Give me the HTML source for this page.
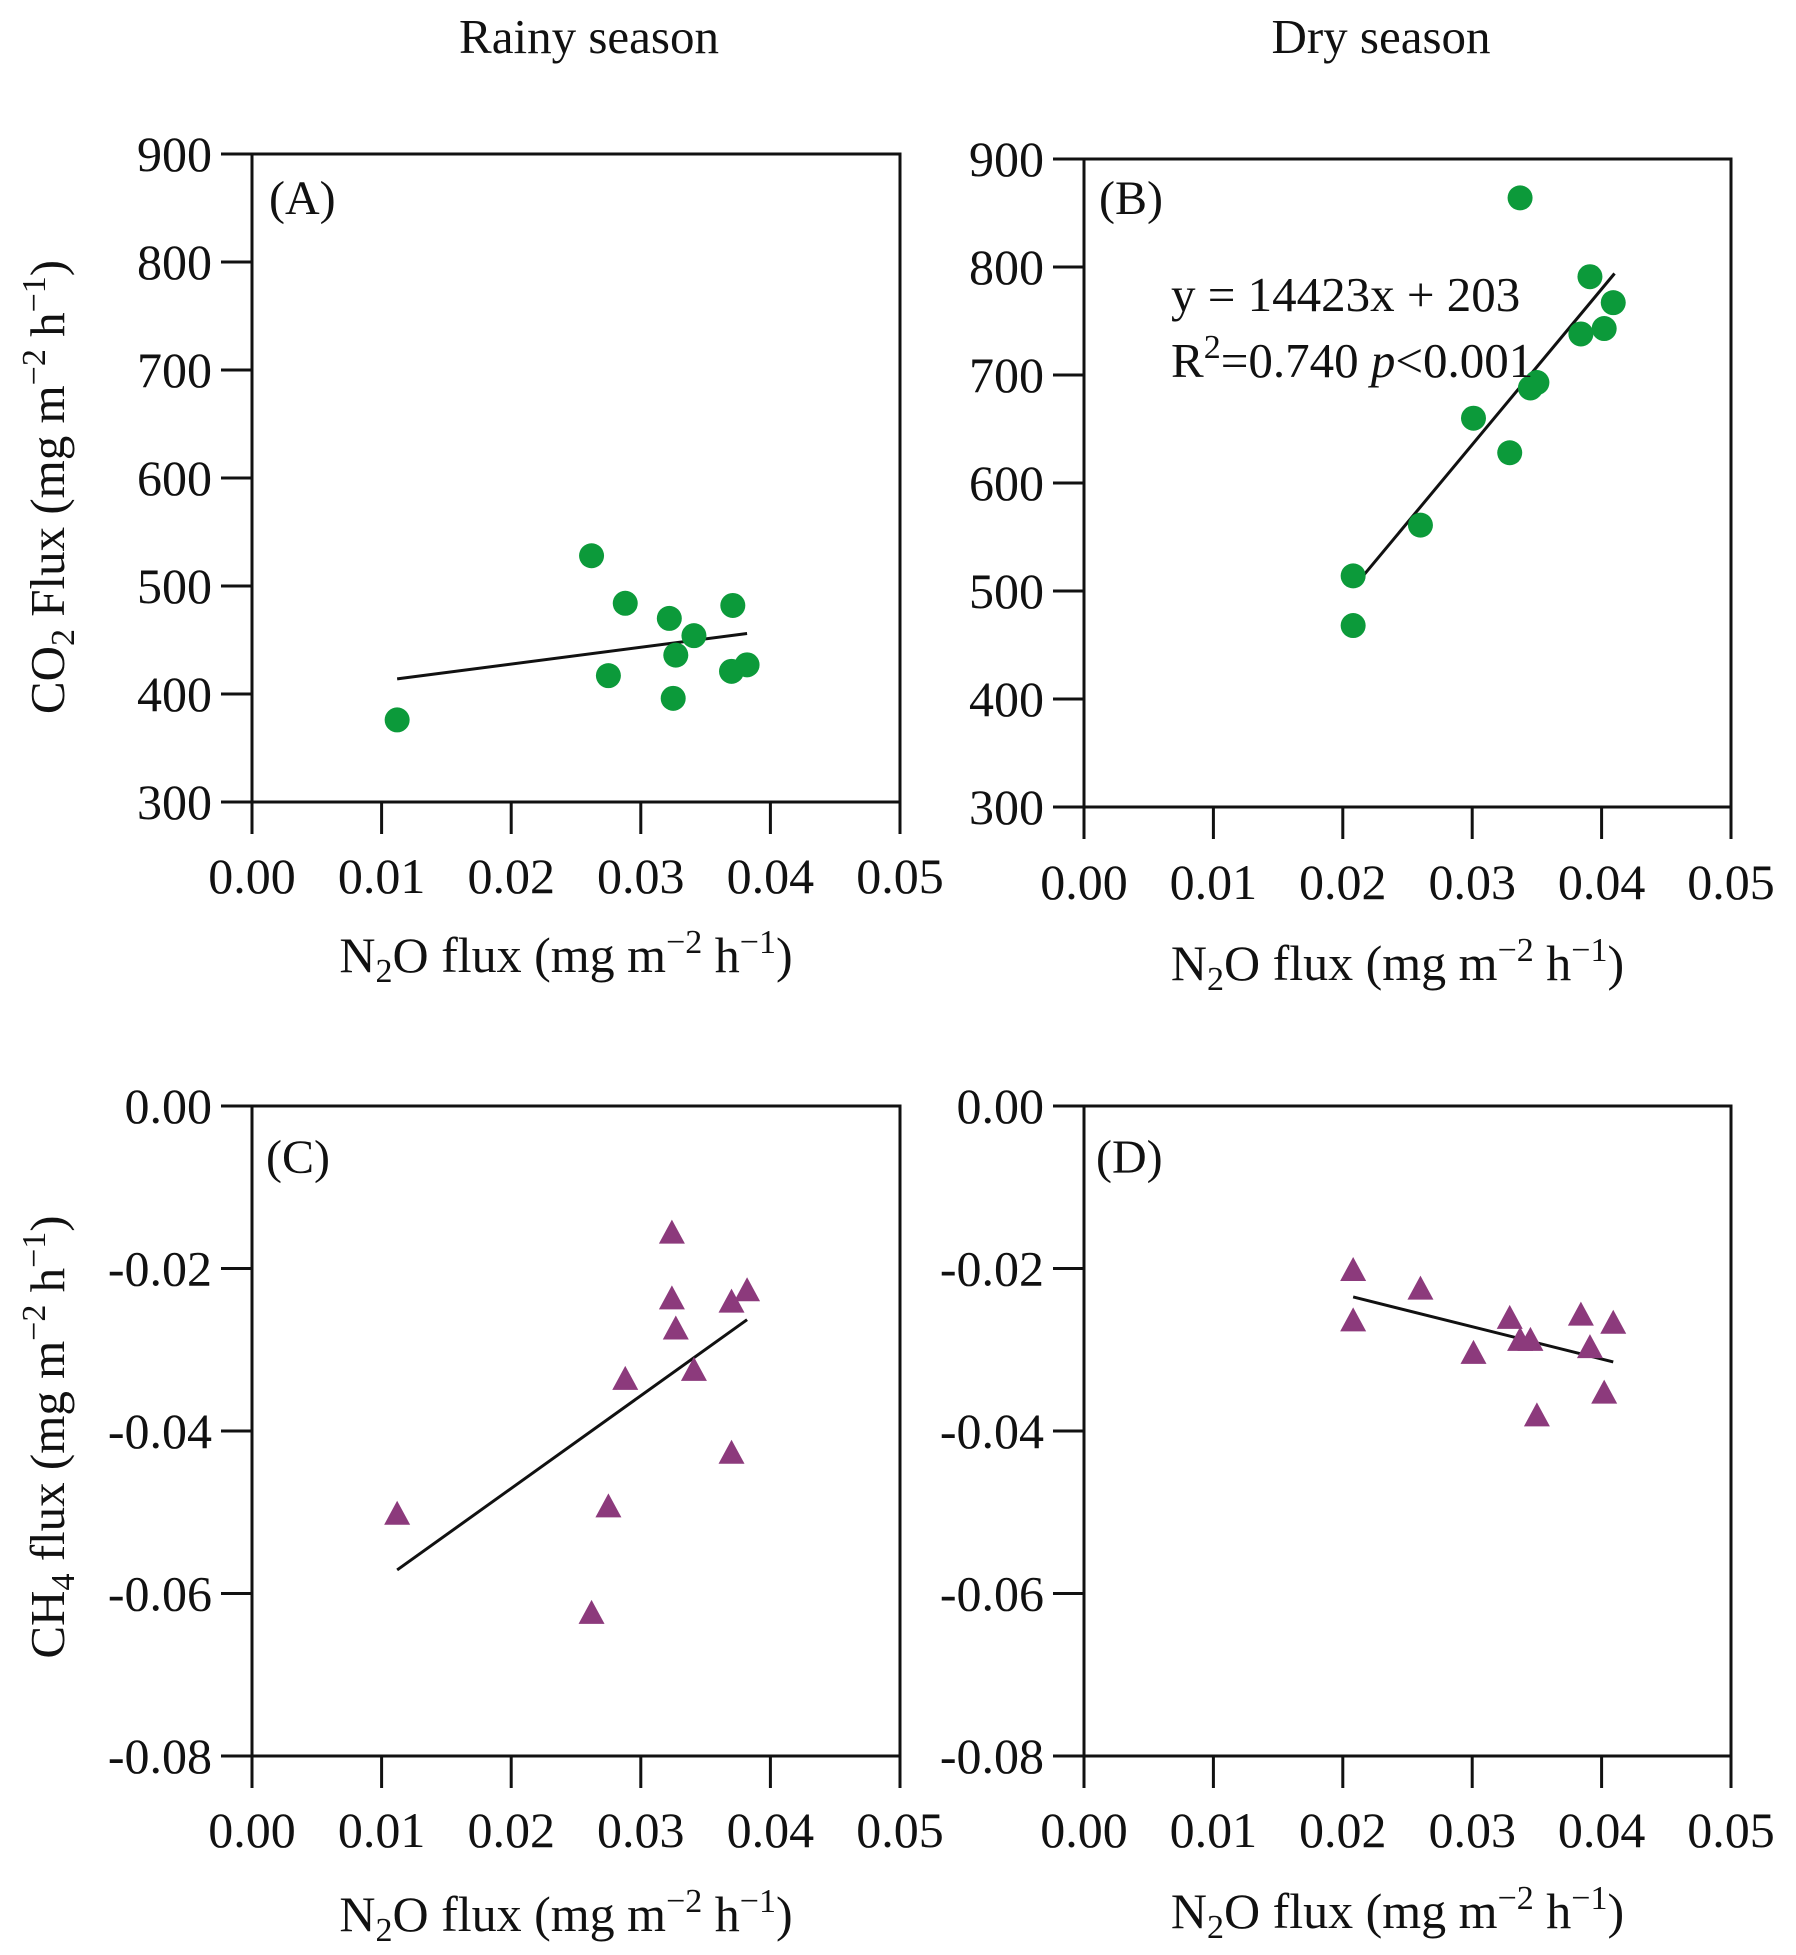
<!DOCTYPE html>
<html><head><meta charset="utf-8"><style>
html,body{margin:0;padding:0;background:#fff}
svg{display:block}
text{font-family:"Liberation Serif",serif;fill:#111}
</style></head><body>
<svg id="chart" width="1796" height="1955" viewBox="0 0 1796 1955" xmlns="http://www.w3.org/2000/svg">
<text x="589" y="53" font-size="49" text-anchor="middle">Rainy season</text>
<text x="1381" y="53" font-size="49" text-anchor="middle">Dry season</text>
</svg>
<script>
// Panel A: rainy CO2 vs N2O
const aX = [0.0112,0.0262,0.0288,0.0275,0.0322,0.0327,0.0325,0.0341,0.0371,0.0370,0.0382];
const aY = [376,528,484,417,470,436,396,454,482,421,427];
const aFit = [[0.0112,414],[0.0382,456]];
// Panel B: dry CO2 vs N2O
const bX = [0.0337,0.0391,0.0409,0.0402,0.0384,0.0345,0.0350,0.0301,0.0329,0.0260,0.0208,0.0208];
const bY = [864,791,767,743,738,688,693,660,628,561,514,468];
const bFit = [[0.0215,513],[0.041,794]];
// Panel C: rainy CH4 vs N2O
const cX = [0.0112,0.0262,0.0275,0.0288,0.0324,0.0324,0.0327,0.0341,0.0370,0.0382,0.0370];
const cY = [-0.0503,-0.0625,-0.0494,-0.0337,-0.0157,-0.0238,-0.0275,-0.0326,-0.0242,-0.0228,-0.0428];
const cFit = [[0.0112,-0.0571],[0.0382,-0.0263]];
// Panel D: dry CH4 vs N2O
const dX = [0.0208,0.0208,0.0260,0.0301,0.0329,0.0337,0.0345,0.0350,0.0384,0.0391,0.0402,0.0409];
const dY = [-0.0203,-0.0265,-0.0226,-0.0305,-0.0262,-0.0289,-0.0289,-0.0382,-0.0258,-0.0298,-0.0354,-0.0268];
const dFit = [[0.0208,-0.0235],[0.0409,-0.0315]];
const xTicks = ["0.00","0.01","0.02","0.03","0.04","0.05"];
const co2Ticks = ["300","400","500","600","700","800","900"];
const ch4Ticks = ["-0.08","-0.06","-0.04","-0.02","0.00"];

const NS="http://www.w3.org/2000/svg";
const svg=document.getElementById('chart');
function mk(tag,attrs,parent){const e=document.createElementNS(NS,tag);for(const k in attrs)e.setAttribute(k,attrs[k]);(parent||svg).appendChild(e);return e;}
const SUP='<tspan font-size="34" dy="-19">';
function panel(o){
  const g=mk('g',{});
  
  
  const sx=v=>o.L+(v-0)/(0.05)*(o.R-o.L);
  const sy=v=>o.B-(v-o.ymin)/(o.ymax-o.ymin)*(o.B-o.T);
  const frame=mk('rect',{x:o.L,y:o.T,width:o.R-o.L,height:o.B-o.T,fill:'none',stroke:'#111','stroke-width':3},g);
  
  
  xTicks.forEach(t=>{
    const x=sx(parseFloat(t));
    mk('line',{x1:x,x2:x,y1:o.B,y2:o.B+32,stroke:'#111','stroke-width':3},g);
    const tx=mk('text',{x:x,y:o.xl,'font-size':50,'text-anchor':'middle'},g);
    tx.textContent=t;
    
    
  });
  o.yt.forEach(t=>{
    const y=sy(parseFloat(t));
    mk('line',{x1:o.L-31,x2:o.L,y1:y,y2:y,stroke:'#111','stroke-width':3},g);
    const ty=mk('text',{x:o.L-40,y:y+17,'font-size':50,'text-anchor':'end'},g);
    ty.textContent=t;
    
    
  });
  const xt=mk('text',{x:(o.L+o.R)/2-10,y:o.xt,'font-size':50,'text-anchor':'middle'},g);
  xt.innerHTML='N<tspan font-size="34" dy="10">2</tspan><tspan dy="-10">O flux (mg m</tspan>'+SUP+'−2</tspan><tspan dy="19"> h</tspan>'+SUP+'−1</tspan><tspan dy="19">)</tspan>';
  
  
  const lb=mk('text',{x:o.lx,y:o.ly,'font-size':48},g);
  lb.textContent=o.label;
  
  
  const fl=mk('line',{x1:sx(o.fit[0][0]),y1:sy(o.fit[0][1]),x2:sx(o.fit[1][0]),y2:sy(o.fit[1][1]),stroke:'#111','stroke-width':3},g);
  
  
  o.xs.forEach((xv,i)=>{
    const cx=sx(xv),cy=sy(o.ys[i]);let m;
    if(o.tri){m=mk('polygon',{points:`${cx},${cy-14} ${cx-13},${cy+10} ${cx+13},${cy+10}`,fill:'#8c3a7c'},g);}
    else{m=mk('circle',{cx:cx,cy:cy,r:12.5,fill:'#0c9a3a'},g);}
    
    
  });
  return g;
}
panel({name:'panel-a',L:252,R:900,T:154,B:802,ymin:300,ymax:900,yt:co2Ticks,xs:aX,ys:aY,fit:aFit,label:'(A)',lx:269,ly:214,xl:893,xt:972});
panel({name:'panel-b',L:1084,R:1731,T:159,B:807,ymin:300,ymax:900,yt:co2Ticks,xs:bX,ys:bY,fit:bFit,label:'(B)',lx:1099,ly:214,xl:899,xt:980});
panel({name:'panel-c',L:252,R:900,T:1106,B:1756,ymin:-0.08,ymax:0,yt:ch4Ticks,xs:cX,ys:cY,fit:cFit,label:'(C)',lx:266,ly:1173,xl:1847,xt:1931,tri:true});
panel({name:'panel-d',L:1084,R:1731,T:1106,B:1756,ymin:-0.08,ymax:0,yt:ch4Ticks,xs:dX,ys:dY,fit:dFit,label:'(D)',lx:1096,ly:1173,xl:1847,xt:1928,tri:true});

const ya=mk('text',{transform:'translate(64,487) rotate(-90)','font-size':49,'text-anchor':'middle'});
ya.innerHTML='CO<tspan font-size="34" dy="10">2</tspan><tspan dy="-10"> Flux (mg m</tspan>'+SUP+'−2</tspan><tspan dy="19"> h</tspan>'+SUP+'−1</tspan><tspan dy="19">)</tspan>';


const yc=mk('text',{transform:'translate(64,1437) rotate(-90)','font-size':49,'text-anchor':'middle'});
yc.innerHTML='CH<tspan font-size="34" dy="10">4</tspan><tspan dy="-10"> flux (mg m</tspan>'+SUP+'−2</tspan><tspan dy="19"> h</tspan>'+SUP+'−1</tspan><tspan dy="19">)</tspan>';


const eq=mk('text',{x:1171,y:311,'font-size':49});
eq.textContent='y = 14423x + 203';


const r2=mk('text',{x:1171,y:377,'font-size':49});
r2.innerHTML='R<tspan font-size="34" dy="-19">2</tspan><tspan dy="19">=0.740 </tspan><tspan font-style="italic">p</tspan>&lt;0.001';


</script>
</body></html>
